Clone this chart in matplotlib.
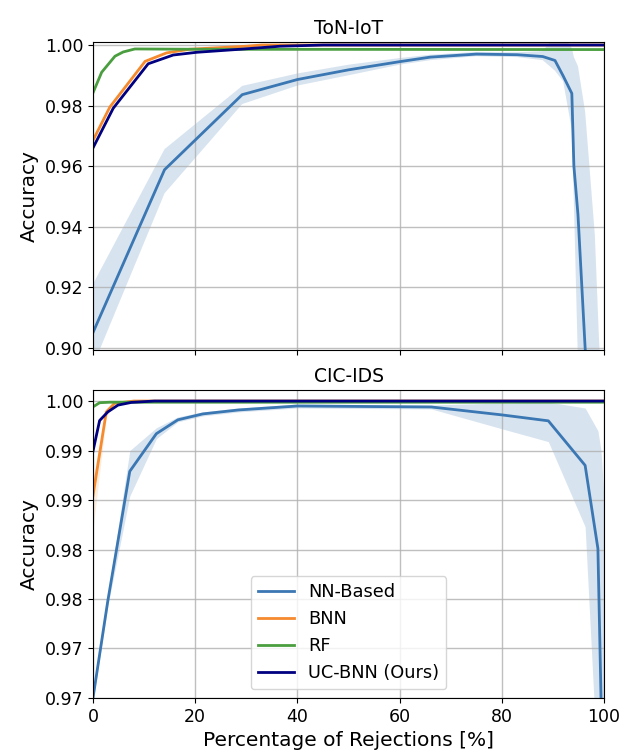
import matplotlib
matplotlib.use("Agg")
import matplotlib.pyplot as plt
from matplotlib.ticker import FormatStrFormatter, MultipleLocator

# ---- ToN-IoT (top panel) ----
ton_nn_x = [0, 14.0, 29.2, 40, 50, 60, 66, 75, 83, 88, 90.4, 92.0, 93.7, 94.1, 94.9, 96.3, 98.2, 99.0, 100]
ton_nn_mean = [0.905, 0.9588, 0.9836, 0.9886, 0.9918, 0.9945, 0.9960, 0.9970, 0.9968, 0.9962,
               0.9949, 0.9898, 0.9840, 0.9600, 0.9440, 0.9000, 0.850, 0.830, 0.800]
ton_nn_lo = [0.894, 0.951, 0.9805, 0.9866, 0.9900, 0.9935, 0.9950, 0.9963, 0.9960, 0.9950,
             0.9915, 0.9880, 0.9720, 0.9480, 0.8950, 0.850, 0.800, 0.780, 0.750]
ton_nn_hi = [0.921, 0.9656, 0.9865, 0.9906, 0.9935, 0.9957, 0.9968, 0.9977, 0.9976, 0.9980,
             1.003, 1.003, 0.999, 0.996, 0.993, 0.978, 0.9373, 0.9034, 0.870]

ton_bnn_x = [0, 3.3, 10.2, 14.4, 18.9, 30, 33, 100]
ton_bnn = [0.9685, 0.9795, 0.9946, 0.9974, 0.9986, 0.9996, 1.0, 1.0]

ton_rf_x = [0, 1.7, 4.3, 5.9, 8.2, 20, 100]
ton_rf = [0.9842, 0.9910, 0.9963, 0.9977, 0.9987, 0.9986, 0.9985]

ton_uc_x = [0, 3.96, 10.8, 15.7, 20.3, 28.8, 36.6, 45, 100]
ton_uc = [0.9660, 0.9791, 0.9938, 0.9967, 0.9976, 0.9986, 0.9996, 1.0, 1.0]

# ---- CIC-IDS (bottom panel) ----
cic_nn_x = [0, 2.9, 7.2, 12.4, 16.6, 21.5, 28.5, 40, 66.2, 80, 89.1, 96.3, 98.8, 99.4, 99.6, 100]
cic_nn_mean = [0.9700, 0.9798, 0.9929, 0.9967, 0.9981, 0.9987, 0.9991, 0.9995, 0.9994,
               0.9986, 0.9980, 0.9935, 0.9851, 0.9703, 0.9640, 0.9550]
cic_nn_lo = [0.9697, 0.9793, 0.9904, 0.9962, 0.9979, 0.9985, 0.9989, 0.9993, 0.9992,
             0.9972, 0.9959, 0.9873, 0.9620, 0.9550, 0.9500, 0.9400]
cic_nn_hi = [0.9703, 0.9803, 0.9950, 0.9973, 0.9984, 0.9989, 0.9993, 0.9997, 0.9996,
             0.9998, 0.9999, 0.9993, 0.9970, 0.9950, 0.9935, 0.9900]

cic_bnn_x = [0, 2.6, 4.2, 8, 100]
cic_bnn = [0.99045, 0.9989, 0.99976, 1.0, 1.0]
cic_bnn_lo = [0.9870, 0.9984, 0.9997, 1.0, 1.0]
cic_bnn_hi = [0.9922, 0.9992, 0.99985, 1.0, 1.0]

cic_rf_x = [0, 1.3, 3.3, 100]
cic_rf = [0.99941, 0.99983, 0.99988, 0.99988]

cic_uc_x = [0, 1.3, 2.9, 4.9, 7.5, 12, 100]
cic_uc = [0.99493, 0.99803, 0.9989, 0.99959, 0.99986, 1.0, 1.0]

labels = ["NN-Based", "BNN", "RF", "UC-BNN (Ours)"]
c_nn, c_bnn, c_rf, c_uc = "#3a77b3", "#f58a2e", "#4a9e3f", "#000080"

fig, (ax1, ax2) = plt.subplots(2, 1, figsize=(6.24, 7.54), dpi=100, sharex=True)
fig.subplots_adjust(left=0.149, right=0.968, top=0.9443, bottom=0.0743, hspace=0.131)

lw = 2.0
# top
ax1.fill_between(ton_nn_x, ton_nn_lo, ton_nn_hi, color=c_nn, alpha=0.2, linewidth=0)
ax1.plot(ton_nn_x, ton_nn_mean, color=c_nn, lw=lw, label=labels[0])
ax1.plot(ton_bnn_x, ton_bnn, color=c_bnn, lw=lw, label=labels[1])
ax1.plot(ton_rf_x, ton_rf, color=c_rf, lw=lw, label=labels[2])
ax1.plot(ton_uc_x, ton_uc, color=c_uc, lw=lw, label=labels[3])
ax1.set_ylim(0.8993, 1.001)
ax1.yaxis.set_major_locator(MultipleLocator(0.02))
ax1.set_title("ToN-IoT", fontsize=13.5)

# bottom
ax2.fill_between(cic_nn_x, cic_nn_lo, cic_nn_hi, color=c_nn, alpha=0.2, linewidth=0)
ax2.fill_between(cic_bnn_x, cic_bnn_lo, cic_bnn_hi, color=c_bnn, alpha=0.15, linewidth=0)
ax2.plot(cic_nn_x, cic_nn_mean, color=c_nn, lw=lw, label=labels[0])
ax2.plot(cic_bnn_x, cic_bnn, color=c_bnn, lw=lw, label=labels[1])
ax2.plot(cic_rf_x, cic_rf, color=c_rf, lw=lw, label=labels[2])
ax2.plot(cic_uc_x, cic_uc, color=c_uc, lw=lw, label=labels[3])
ax2.set_ylim(0.97, 1.0011)
ax2.yaxis.set_major_locator(MultipleLocator(0.005))
ax2.set_title("CIC-IDS", fontsize=13.5)
ax2.set_xlabel("Percentage of Rejections [%]", fontsize=14.5)
ax2.legend(loc="lower center", fontsize=12.8)

for ax in (ax1, ax2):
    ax.set_xlim(0, 100)
    ax.xaxis.set_major_locator(MultipleLocator(20))
    ax.yaxis.set_major_formatter(FormatStrFormatter("%.2f"))
    ax.grid(True, color="#b0b0b0", linewidth=1.0, alpha=0.8)
    ax.tick_params(labelsize=12.5)
    ax.set_ylabel("Accuracy", fontsize=14.5)

fig.savefig("out.png", dpi=100)
